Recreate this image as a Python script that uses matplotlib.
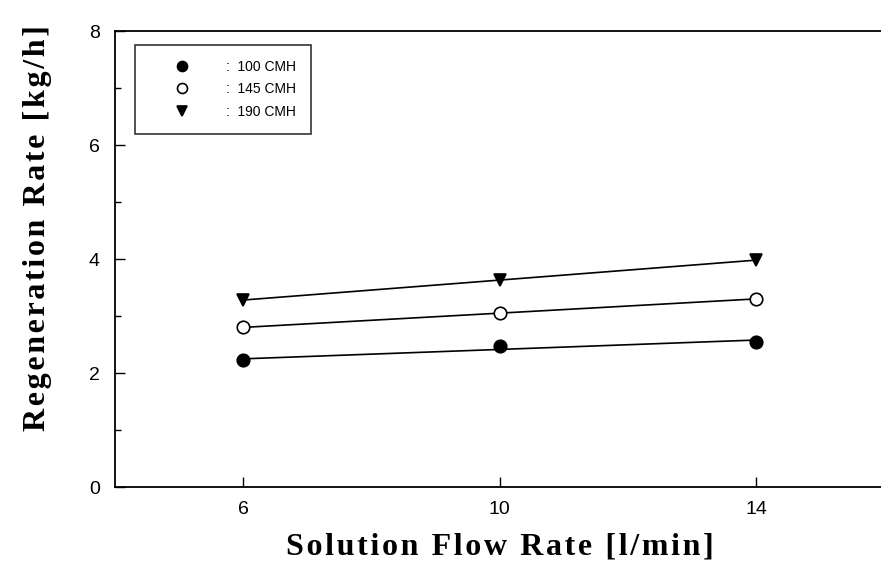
import matplotlib.pyplot as plt
import numpy as np
from matplotlib.ticker import MultipleLocator

# Solution flow rate [l/min]
flow_rate = np.array([6, 10, 14])

# Regeneration rate [kg/h] for each air flow rate
regen_100 = np.array([2.22, 2.47, 2.55])
regen_145 = np.array([2.80, 3.05, 3.30])
regen_190 = np.array([3.28, 3.63, 3.98])

labels = [':  100 CMH', ':  145 CMH', ':  190 CMH']


def spaced(s, gap='\u200a'):
    # letter-spaced label like the original scan
    return gap.join(s)


fig = plt.figure(figsize=(8.81, 5.62), dpi=100)
ax = fig.add_axes([115 / 881, 1 - 487 / 562, (881 - 115) / 881, (487 - 31) / 562])

series = [(regen_100, 'o', 'black'), (regen_145, 'o', 'white'), (regen_190, 'v', 'black')]
handles = []
for vals, marker, face in series:
    # straight fitted line through the points
    k, b = np.polyfit(flow_rate, vals, 1)
    ax.plot(flow_rate, k * flow_rate + b, '-', color='black', lw=1.2, zorder=2)
    h, = ax.plot(flow_rate, vals, marker, ms=9, mfc=face, mec='black', mew=1.2,
                 linestyle='none', zorder=3)
    handles.append(h)

ax.set_xlim(4, 4 + 766 / 64.1)
ax.set_ylim(0, 8)
ax.set_xticks([6, 10, 14])
ax.set_yticks([0, 2, 4, 6, 8])
ax.yaxis.set_minor_locator(MultipleLocator(1))
ax.tick_params(direction='in', length=7, width=1, labelsize=14, pad=10)
ax.tick_params(axis='y', pad=11)
ax.tick_params(which='minor', direction='in', length=4, width=1)
for lab in ax.get_xticklabels() + ax.get_yticklabels():
    lab.set_family('Liberation Sans')
for side in ['top', 'left', 'bottom']:
    ax.spines[side].set_linewidth(1.3)
ax.spines['right'].set_visible(False)

ax.set_xlabel(spaced('Solution Flow Rate [l/min]'), fontsize=23, fontweight='bold',
              family='Liberation Serif')
ax.xaxis.set_label_coords(0.503, -0.1)
ax.set_ylabel(spaced('Regeneration Rate [kg/h]'), fontsize=23, fontweight='bold',
              family='Liberation Serif')
ax.yaxis.set_label_coords(-0.082, 0.568)

leg = ax.legend(handles, labels, loc='upper left', bbox_to_anchor=(0.026, 0.97),
                borderaxespad=0, frameon=True, fancybox=False, edgecolor='black',
                prop={'family': 'Liberation Sans', 'size': 10}, handlelength=4.6,
                handletextpad=0.85, borderpad=1.1, labelspacing=0.6, markerscale=0.8)
leg.get_frame().set_linewidth(1.2)

fig.savefig('out.png', dpi=100)
